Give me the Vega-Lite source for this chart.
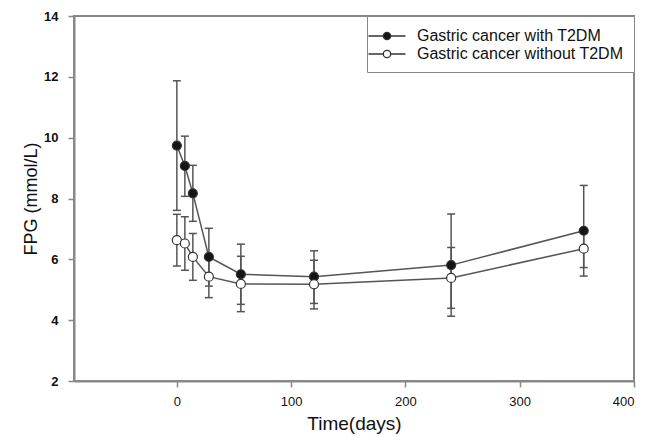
{
  "$schema": "https://vega.github.io/schema/vega-lite/v6.json",
  "width": 560,
  "height": 365,
  "autosize": "none",
  "padding": {"left": 74, "top": 16, "right": 23, "bottom": 56},
  "background": "white",
  "config": {
    "font": "Liberation Sans",
    "view": {"stroke": "#888888", "strokeWidth": 2},
    "axis": {
      "domainColor": "#888888", "domainWidth": 2, "tickColor": "#888888", "tickWidth": 1.5, "tickSize": 6,
      "grid": false, "labelFont": "Liberation Sans", "labelFontSize": 13, "labelColor": "#111111",
      "titleFont": "Liberation Sans", "titleFontWeight": "normal", "titleColor": "#111111"
    }
  },
  "data": {
    "values": [
      {"series": "Gastric cancer with T2DM", "day": 0, "mean": 9.74, "lo": 7.61, "hi": 11.87},
      {"series": "Gastric cancer with T2DM", "day": 7, "mean": 9.07, "lo": 8.07, "hi": 10.05},
      {"series": "Gastric cancer with T2DM", "day": 14, "mean": 8.17, "lo": 7.25, "hi": 9.09},
      {"series": "Gastric cancer with T2DM", "day": 28, "mean": 6.08, "lo": 5.12, "hi": 7.02},
      {"series": "Gastric cancer with T2DM", "day": 56, "mean": 5.51, "lo": 4.52, "hi": 6.5},
      {"series": "Gastric cancer with T2DM", "day": 120, "mean": 5.43, "lo": 4.55, "hi": 6.28},
      {"series": "Gastric cancer with T2DM", "day": 240, "mean": 5.81, "lo": 4.13, "hi": 7.49},
      {"series": "Gastric cancer with T2DM", "day": 356, "mean": 6.94, "lo": 5.45, "hi": 8.43},
      {"series": "Gastric cancer without T2DM", "day": 0, "mean": 6.63, "lo": 5.78, "hi": 7.48},
      {"series": "Gastric cancer without T2DM", "day": 7, "mean": 6.52, "lo": 5.64, "hi": 7.4},
      {"series": "Gastric cancer without T2DM", "day": 14, "mean": 6.08, "lo": 5.31, "hi": 6.85},
      {"series": "Gastric cancer without T2DM", "day": 28, "mean": 5.43, "lo": 4.74, "hi": 6.12},
      {"series": "Gastric cancer without T2DM", "day": 56, "mean": 5.19, "lo": 4.28, "hi": 6.1},
      {"series": "Gastric cancer without T2DM", "day": 120, "mean": 5.18, "lo": 4.37, "hi": 5.97},
      {"series": "Gastric cancer without T2DM", "day": 240, "mean": 5.39, "lo": 4.39, "hi": 6.39},
      {"series": "Gastric cancer without T2DM", "day": 356, "mean": 6.35, "lo": 5.73, "hi": 6.97}
    ]
  },
  "encoding": {
    "x": {
      "field": "day", "type": "quantitative",
      "scale": {"domain": [-90, 400], "nice": false, "zero": false},
      "axis": {"values": [0, 100, 200, 300, 400], "title": "Time(days)", "titleFontSize": 19, "labelPadding": 8, "titlePadding": 6}
    }
  },
  "layer": [
    {
      "mark": {"type": "rule", "color": "#555555", "strokeWidth": 1.5},
      "encoding": {
        "y": {"field": "lo", "type": "quantitative"},
        "y2": {"field": "hi"}
      }
    },
    {
      "mark": {"type": "point", "shape": "stroke", "size": 64, "color": "#555555", "strokeWidth": 1.5, "opacity": 1},
      "encoding": {"y": {"field": "lo", "type": "quantitative"}}
    },
    {
      "mark": {"type": "point", "shape": "stroke", "size": 64, "color": "#555555", "strokeWidth": 1.5, "opacity": 1},
      "encoding": {"y": {"field": "hi", "type": "quantitative"}}
    },
    {
      "mark": {"type": "line", "color": "#555555", "strokeWidth": 1.5},
      "encoding": {
        "y": {"field": "mean", "type": "quantitative"},
        "detail": {"field": "series"}
      }
    },
    {
      "mark": {"type": "point", "size": 81, "filled": true, "stroke": "#333333", "strokeWidth": 1.2, "opacity": 1},
      "encoding": {
        "y": {
          "field": "mean", "type": "quantitative",
          "scale": {"domain": [2, 14], "nice": false, "zero": false},
          "axis": {"values": [2, 4, 6, 8, 10, 12, 14], "title": "FPG (mmol/L)", "titleFontSize": 18, "labelPadding": 10, "titlePadding": 3, "labelFontWeight": "bold"}
        },
        "fill": {
          "field": "series", "type": "nominal",
          "scale": {"domain": ["Gastric cancer with T2DM", "Gastric cancer without T2DM"], "range": ["#151515", "#ffffff"]},
          "legend": {
            "title": null, "orient": "top-right", "offset": 0,
            "symbolType": "M-2,0L-0.4,0M0.4,0L2,0M-0.4,0A0.4,0.4,0,1,0,0.4,0A0.4,0.4,0,1,0,-0.4,0Z",
            "symbolSize": 342, "symbolStrokeColor": "#333333", "symbolStrokeWidth": 1.3,
            "labelFontSize": 16, "labelColor": "#111111", "labelOffset": 20, "labelLimit": 300,
            "strokeColor": "#888888", "fillColor": "white", "padding": 10, "rowPadding": 0,
            "encode": {
              "symbols": {
                "update": {
                  "shape": {"value": "M-2,0L-0.4,0M0.4,0L2,0M-0.4,0A0.4,0.4,0,1,0,0.4,0A0.4,0.4,0,1,0,-0.4,0Z"}
                }
              }
            }
          }
        }
      }
    }
  ]
}
